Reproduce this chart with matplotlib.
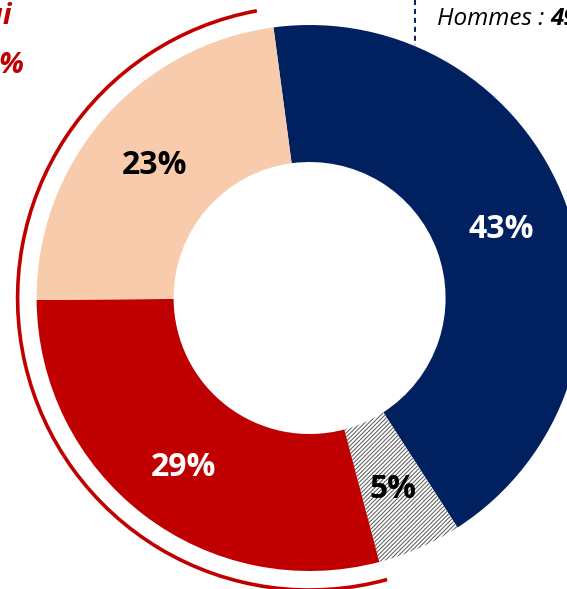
import matplotlib
matplotlib.use("Agg")
import matplotlib.pyplot as plt
from matplotlib.patches import Arc

# données du graphique
categories = ["Hommes", "Non renseigné", "Femmes A", "Femmes B"]
values = [43, 5, 29, 23]
labels = ["43%", "5%", "29%", "23%"]
colors = ["#002060", "white", "#C00000", "#F8CBAD"]
label_colors = ["white", "black", "white", "black"]

W, H = 567, 589
NAVY = "#002060"
RED = "#C00000"
FONT = ["Open Sans", "DejaVu Sans"]

plt.rcParams["hatch.linewidth"] = 0.7

fig = plt.figure(figsize=(W / 100, H / 100), dpi=100)
ax = fig.add_axes([0, 0, 1, 1])


def py(y):
    # coordonnées pixel (haut = 0) -> données
    return H - y


cx, cy = 309.6, py(298)
r_out = 273

wedges, _ = ax.pie(
    values,
    colors=colors,
    radius=r_out,
    center=(cx, cy),
    startangle=97.6,
    counterclock=False,
    wedgeprops=dict(width=137, linewidth=0, edgecolor="none"),
    frame=True,
)
# part hachurée
wedges[1].set_edgecolor("#555555")
wedges[1].set_linewidth(0)
wedges[1].set_hatch("////////")

ax.set_xlim(0, W)
ax.set_ylim(0, H)
ax.set_aspect("equal")
ax.axis("off")

# étiquettes
label_pos = [(501, 229), (393, 489), (184, 467), (155, 166)]
for (x, y), txt, c in zip(label_pos, labels, label_colors):
    ax.text(x, py(y), txt, color=c, fontsize=23, fontweight="bold",
            family=FONT, ha="center", va="center")

# arc rouge autour des femmes
ax.add_patch(Arc((cx, cy), 2 * 292, 2 * 292, theta1=100.4, theta2=285.4,
                 color=RED, linewidth=2.6))

# ligne pointillée + texte hommes
ax.plot([415, 415], [py(0), py(45)], color=NAVY, linestyle=(0, (2.6, 2)),
        linewidth=1.4)
t = ax.text(437, py(25), "Hommes : ", fontsize=17.5, style="italic",
            family=FONT, ha="left", va="baseline")
ax.annotate("49%", xy=(1, 0), xycoords=t, fontsize=17.5, style="italic",
            fontweight="bold", family=FONT, ha="left", va="bottom")

# textes femmes (coupés à gauche)
ax.text(12, py(24), "Oui", fontsize=21, style="italic", fontweight="bold",
        color=RED, family=FONT, ha="right", va="baseline")
ax.text(24, py(73), "51%", fontsize=21, style="italic", fontweight="bold",
        color=RED, family=FONT, ha="right", va="baseline")

fig.savefig("out.png", dpi=100)
